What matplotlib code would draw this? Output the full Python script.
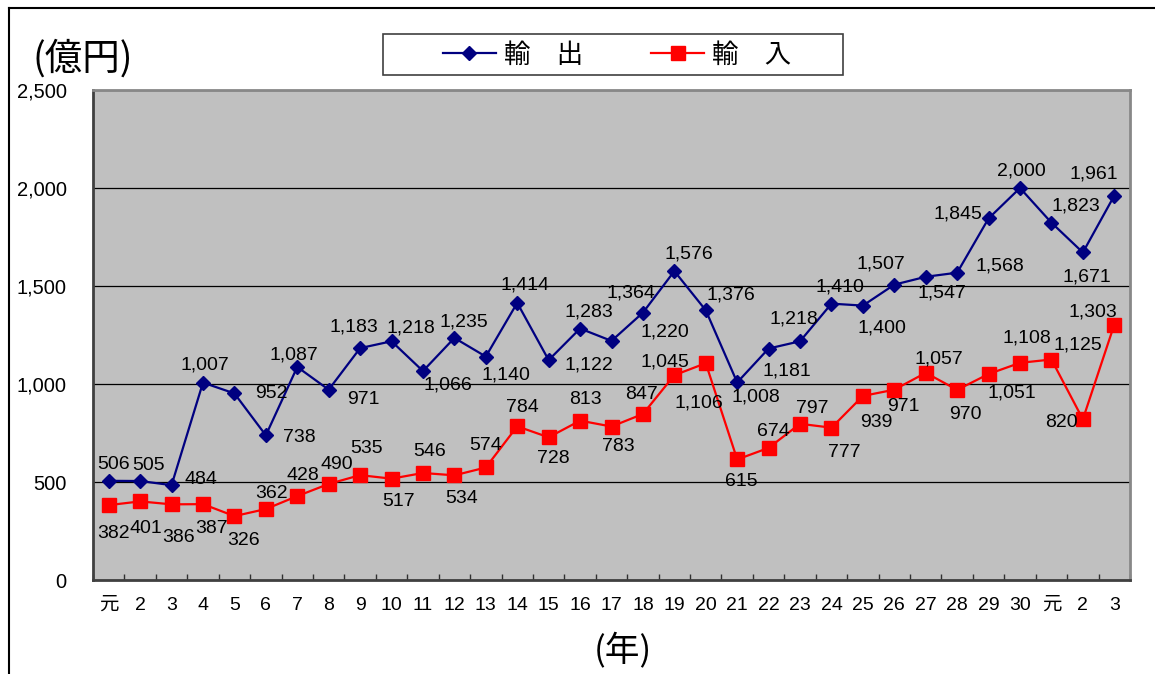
import matplotlib
matplotlib.use("Agg")
import matplotlib.pyplot as plt
from matplotlib.lines import Line2D
from matplotlib.patches import Rectangle
from matplotlib.ticker import FuncFormatter, FixedLocator
import numpy as np

plt.rcParams['font.family'] = ['Liberation Sans', 'Noto Sans CJK JP']

years = ["元", "2", "3", "4", "5", "6", "7", "8", "9", "10", "11", "12", "13", "14",
         "15", "16", "17", "18", "19", "20", "21", "22", "23", "24", "25", "26", "27",
         "28", "29", "30", "元", "2", "3"]
exports = [506, 505, 484, 1007, 952, 738, 1087, 971, 1183, 1218, 1066, 1235, 1140, 1414,
           1122, 1283, 1220, 1364, 1576, 1376, 1008, 1181, 1218, 1410, 1400, 1507, 1547,
           1568, 1845, 2000, 1823, 1671, 1961]
imports = [382, 401, 386, 387, 326, 362, 428, 490, 535, 517, 546, 534, 574, 784,
           728, 813, 783, 847, 1045, 1106, 615, 674, 797, 777, 939, 971, 1057,
           970, 1051, 1108, 1125, 820, 1303]
series_names = ["輸　出", "輸　入"]
yticks = [0, 500, 1000, 1500, 2000, 2500]

# label offsets (pixels, right / down) -- styling only
exp_off = [(5, -16), (8, -16), (29, -6), (2, -18), (37, 0), (33, 2), (-3, -12), (35, 10),
           (-6, -21), (19, -13), (25, 14), (9, -16), (20, 18), (8, -18), (40, 5), (9, -17),
           (53, -9), (-12, -20), (15, -17), (25, -15), (19, 15), (18, 22), (-6, -22),
           (8, -17), (19, 22), (-13, -21), (16, 16), (43, -7), (-31, -4), (1, -17),
           (24, -17), (4, 25), (-20, -22)]
imp_off = [(5, 28), (6, 27), (7, 33), (9, 24), (9, 24), (6, -16), (6, -21), (8, -19),
           (6, -27), (7, 23), (7, -21), (7, 23), (0, -22), (5, -19), (5, 21), (5, -21),
           (7, 20), (-1, -19), (-9, -13), (-7, 40), (4, 22), (5, -16), (12, -15),
           (13, 25), (13, 27), (9, 17), (13, -14), (8, 25), (23, 19), (7, -25),
           (26, -15), (-21, 3), (-21, -13)]

W, H = 1155, 674
fig = plt.figure(figsize=(W / 100, H / 100), dpi=100)
fig.patch.set_facecolor("white")
ax = fig.add_axes([93 / W, 1 - 580 / H, (1130 - 93) / W, (580 - 90) / H])
ax.set_facecolor("#C0C0C0")

x = np.arange(len(years))
blue = "#000080"
red = "#FF0000"
ax.plot(x, exports, color=blue, lw=1.6, marker="D", ms=6.8, mfc=blue, mec=blue, zorder=3)
ax.plot(x, imports, color=red, lw=1.6, marker="s", ms=10, mfc=red, mec=red, zorder=3)

for xi, v, (dx, dy) in zip(x, exports, exp_off):
    ax.annotate(f"{v:,}", (xi, v), xytext=(dx, -dy), textcoords="offset pixels",
                ha="center", va="center", fontsize=14, color="black", zorder=4)
for xi, v, (dx, dy) in zip(x, imports, imp_off):
    ax.annotate(f"{v:,}", (xi, v), xytext=(dx, -dy), textcoords="offset pixels",
                ha="center", va="center", fontsize=14, color="black", zorder=4)

ax.set_xlim(-0.5, len(years) - 0.5)
ax.set_ylim(0, 2500)
ax.set_yticks(yticks)
ax.yaxis.set_major_formatter(FuncFormatter(lambda v, p: f"{int(v):,}"))
ax.tick_params(axis="y", length=0, pad=19, labelsize=14.5)
ax.set_xticks(x)
ax.set_xticklabels(years)
ax.tick_params(axis="x", which="major", length=0, pad=12, labelsize=14)
ax.xaxis.set_minor_locator(FixedLocator(np.arange(-0.5, len(years), 1.0)))
ax.tick_params(axis="x", which="minor", direction="in", length=4, width=1, color="#303030")
ax.yaxis.grid(True, color="black", lw=0.9)
ax.set_axisbelow(True)
for s in ["left", "bottom"]:
    ax.spines[s].set_color("#404040")
    ax.spines[s].set_linewidth(2)
for s in ["top", "right"]:
    ax.spines[s].set_color("#888888")
    ax.spines[s].set_linewidth(2)

# axis titles
fig.text(83 / W, 1 - 59 / H, "(億円)", family="Noto Sans CJK JP", fontsize=27,
         ha="center", va="center")
fig.text(623 / W, 1 - 651 / H, "(年)", family="Noto Sans CJK JP", fontsize=25,
         ha="center", va="center")

# legend box
fig.patches.append(Rectangle((383 / W, 1 - 75 / H), (843 - 383) / W, (75 - 34) / H,
                             transform=fig.transFigure, facecolor="white",
                             edgecolor="#404040", lw=1.2))
handles = [Line2D([], [], color=blue, lw=1.6, marker="D", ms=6.8),
           Line2D([], [], color=red, lw=1.6, marker="s", ms=10)]
leg = fig.legend(handles, series_names, loc="center", bbox_to_anchor=(617 / W, 1 - 55 / H),
                 ncol=2, frameon=False, prop={"family": "Noto Sans CJK JP", "size": 19},
                 handlelength=2.0, handletextpad=0.3, columnspacing=2.6)

# outer border lines (top and left)
fig.add_artist(Line2D([9 / W, 1], [1 - 8 / H, 1 - 8 / H], transform=fig.transFigure,
                      color="black", lw=1.5))
fig.add_artist(Line2D([9 / W, 9 / W], [0, 1 - 8 / H], transform=fig.transFigure,
                      color="black", lw=1.5))

fig.savefig("out.png", dpi=100, facecolor="white")
